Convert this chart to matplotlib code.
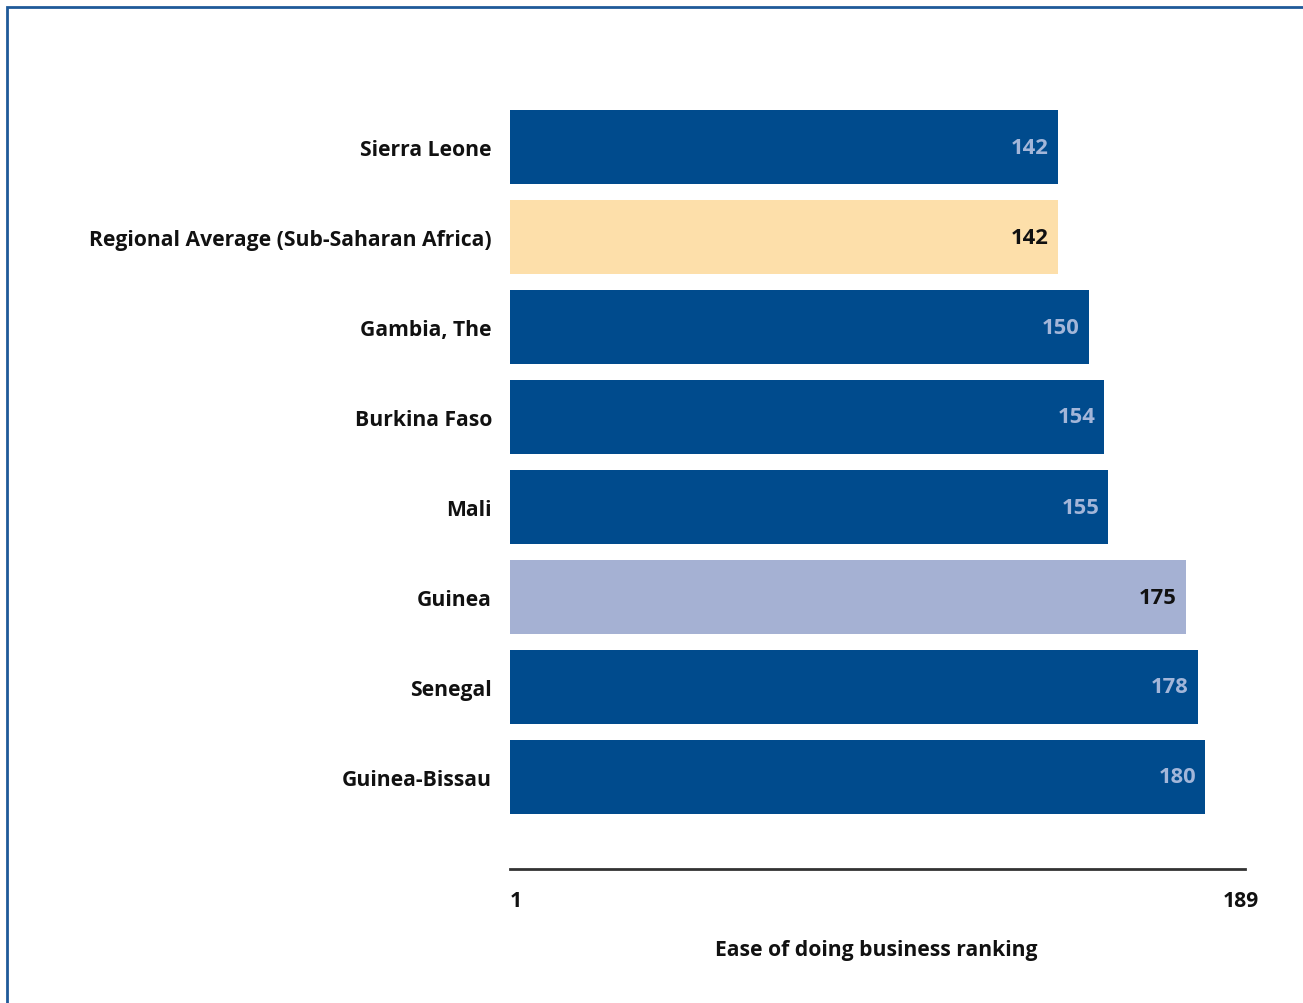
import matplotlib
matplotlib.use("Agg")
import matplotlib.pyplot as plt
from matplotlib.patches import Rectangle

countries = ["Sierra Leone", "Regional Average (Sub-Saharan Africa)", "Gambia, The",
             "Burkina Faso", "Mali", "Guinea", "Senegal", "Guinea-Bissau"]
rankings = [142, 142, 150, 154, 155, 175, 178, 180]
bar_colors = ["#004B8D", "#FDDFAA", "#004B8D", "#004B8D", "#004B8D", "#A5B1D3", "#004B8D", "#004B8D"]
label_colors = ["#A3B6D9", "#111111", "#A3B6D9", "#A3B6D9", "#A3B6D9", "#111111", "#A3B6D9", "#A3B6D9"]
tick_values = [1, 189]
tick_labels = ["1", "189"]
x_label = "Ease of doing business ranking"

plt.rcParams['font.family'] = ['Open Sans', 'DejaVu Sans']
FS = 15.2
W, H = 1303, 1004
fig = plt.figure(figsize=(W / 100, H / 100), dpi=100)

ax = fig.add_axes([510 / W, 1 - 870 / H, (1245 - 510) / W, (870 - 100) / H])
y = list(range(len(countries)))
ax.barh(y, rankings, height=0.82, left=0, color=bar_colors, edgecolor="none")
ax.set_xlim(1, 190.2)
ax.set_ylim(7 + 92 / 90, -48 / 90)

for yi, v, c in zip(y, rankings, label_colors):
    ax.annotate(str(v), (v, yi), xytext=(-9, 0), textcoords="offset pixels",
                ha="right", va="center", fontsize=15.8, fontweight="bold", color=c)

ax.set_yticks(y)
ax.set_yticklabels(countries, fontsize=FS, fontweight="bold", color="#111111")
ax.tick_params(axis="y", length=0, pad=13)

ax.set_xticks(tick_values)
ax.set_xticklabels(tick_labels, fontsize=FS, fontweight="bold", color="#111111")
ax.tick_params(axis="x", length=0, pad=15)
ax.get_xticklabels()[0].set_ha("left")

ax.set_xlabel(x_label, fontsize=FS, fontweight="bold", color="#111111")
ax.xaxis.set_label_coords((876 - 510) / (1245 - 510), -(940 - 870) / (870 - 100))

for s in ["top", "right", "left"]:
    ax.spines[s].set_visible(False)
ax.spines["bottom"].set_color("#333333")
ax.spines["bottom"].set_linewidth(2)

fig.patches.append(Rectangle((7 / W, -0.1), 1.2, 1 - 8 / H + 0.1, transform=fig.transFigure,
                             fill=False, edgecolor="#1F5A99", linewidth=2.0))

fig.savefig("out.png", dpi=100)
